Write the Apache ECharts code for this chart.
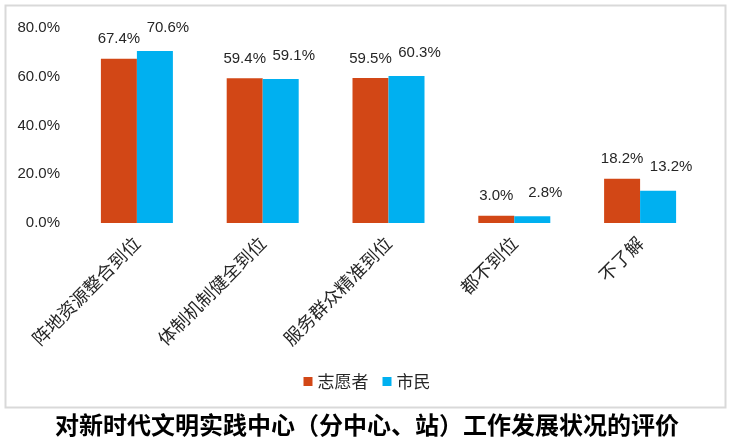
<!DOCTYPE html>
<html><head><meta charset="utf-8">
<script src="https://cdn.jsdelivr.net/npm/echarts@6/dist/echarts.min.js"></script>
<style>html,body{margin:0;padding:0;background:#fff}#c{width:734px;height:443px}</style>
</head><body><div id="c"></div>
<script>
const categories = ['阵地资源整合到位','体制机制健全到位','服务群众精准到位','都不到位','不了解'];
const volunteers = [67.4, 59.4, 59.5, 3.0, 18.2];
const citizens = [70.6, 59.1, 60.3, 2.8, 13.2];
const seriesNames = ['志愿者','市民'];
const titleText = '对新时代文明实践中心（分中心、站）工作发展状况的评价';

const font = '"Liberation Sans",sans-serif';
const cjk = '"Noto Sans CJK SC",sans-serif';
const txt = '#262626';
const chart = echarts.init(document.getElementById('c'));
const fmt = p => p.value.toFixed(1) + '%';
chart.setOption({
  animation:false,
  title:{text:titleText, left:'center', top:408, textStyle:{fontSize:24, fontWeight:'bold', color:'#000', fontFamily:cjk}},
  graphic:[{type:'rect', shape:{x:5.5,y:5.5,width:720,height:402}, style:{fill:'none', stroke:'#d9d9d9', lineWidth:2}, z:-1}],
  legend:{data:seriesNames, left:'center', top:368, icon:'rect', itemWidth:9, itemHeight:9, itemGap:14,
    textStyle:{fontSize:17, color:txt, fontFamily:cjk}},
  grid:{left:74, right:31, top:28, bottom:220},
  xAxis:{type:'category', data:categories, axisLine:{show:false}, axisTick:{show:false},
    axisLabel:{rotate:45, fontSize:18, color:txt, margin:17, interval:0, fontFamily:cjk}},
  yAxis:{type:'value', min:0, max:80, interval:20, splitLine:{show:false}, axisLine:{show:false}, axisTick:{show:false},
    axisLabel:{fontSize:15, color:txt, margin:14, fontFamily:font, formatter: v => v.toFixed(1) + '%'}},
  series:[
    {name:seriesNames[0], type:'bar', data:volunteers, barWidth:36, barGap:'0%', itemStyle:{color:'#D24716'},
      label:{show:true, position:'top', distance:12, color:txt, fontSize:15, fontFamily:font, formatter:fmt}},
    {name:seriesNames[1], type:'bar', data:citizens, barWidth:36, barGap:'0%', itemStyle:{color:'#00B0F0'},
      label:{show:true, position:'top', distance:16, offset:[13,0], color:txt, fontSize:15, fontFamily:font, formatter:fmt}}
  ]
});
</script></body></html>
